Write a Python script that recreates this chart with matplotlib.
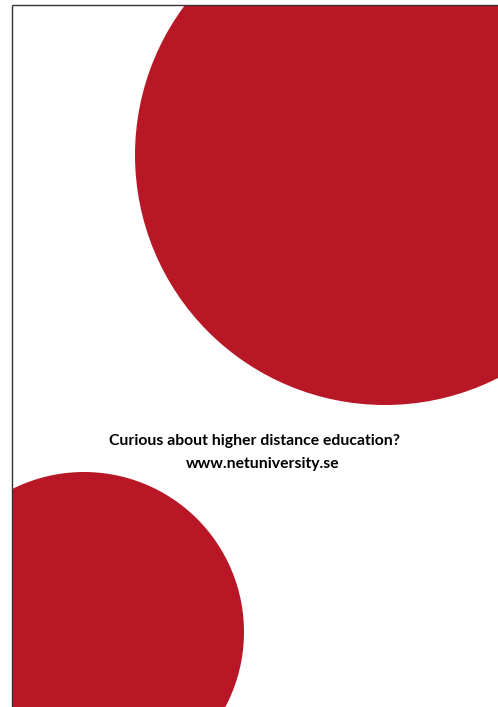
import matplotlib.pyplot as plt
from matplotlib.patches import Circle, Rectangle

# circles in page pixels: centre x, centre y, radius
circle_x = [385, 84]
circle_y = [155, 632]
circle_r = [250, 160]

lines = ["Curious about higher distance education?", "www.netuniversity.se"]

red = "#b81726"

fig = plt.figure(figsize=(4.98, 7.07), dpi=100)
ax = fig.add_axes([0, 0, 1, 1])
ax.set_xlim(0, 498)
ax.set_ylim(707, 0)
ax.axis("off")

# page frame, circles are cut at its edges
frame = Rectangle((12, 5), 486, 702, facecolor="none", edgecolor="none")
ax.add_patch(frame)
for x, y, r in zip(circle_x, circle_y, circle_r):
    c = Circle((x, y), r, facecolor=red, edgecolor="none")
    ax.add_patch(c)
    c.set_clip_path(frame)

ax.plot([12, 12], [5, 707], color="#333333", lw=1.0, solid_capstyle="butt")
ax.plot([12, 498], [5, 5], color="#333333", lw=1.0, solid_capstyle="butt")

ax.text(254.5, 445, lines[0], ha="center", va="baseline", fontsize=11.3,
        fontweight="bold", family="Lato")
ax.text(263, 468, lines[1], ha="center", va="baseline", fontsize=11.3,
        fontweight="bold", family="Lato")

fig.savefig("out.png", dpi=100)
